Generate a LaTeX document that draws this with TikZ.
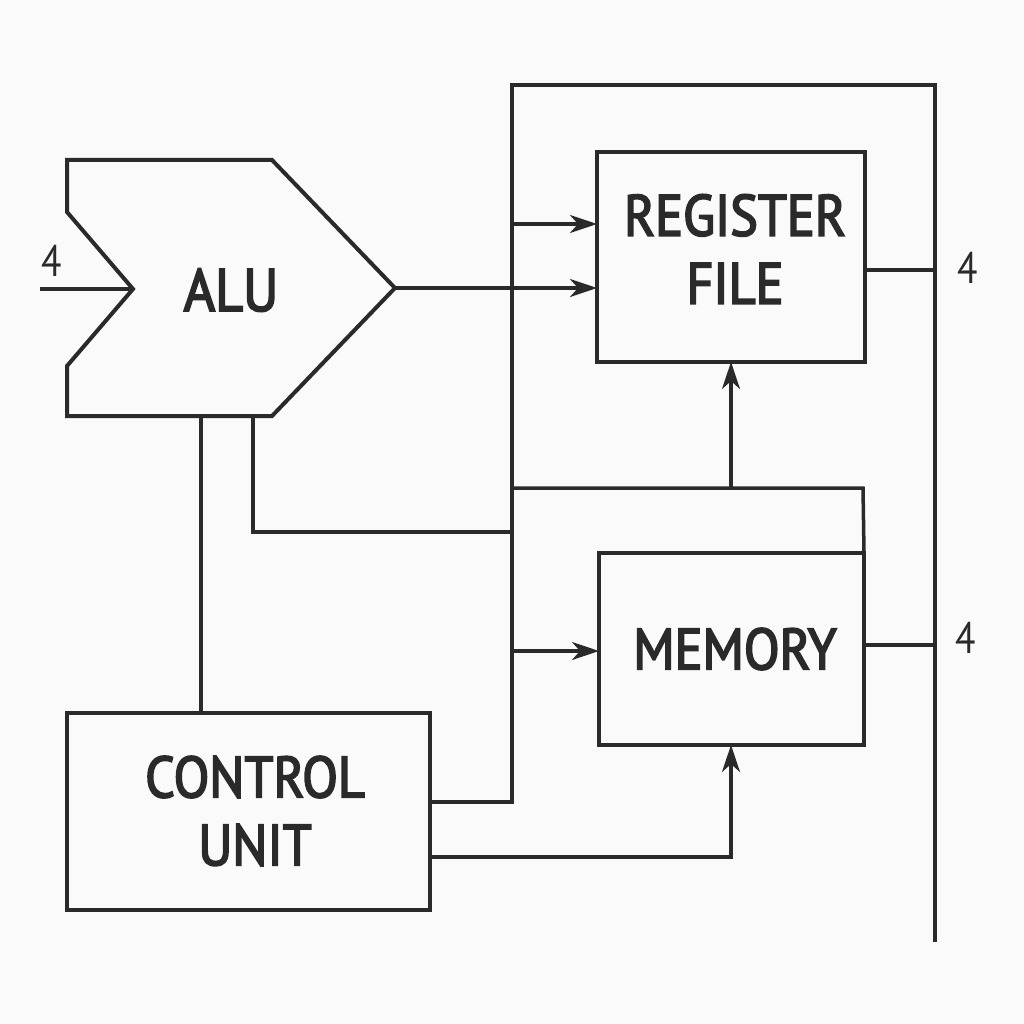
\documentclass[tikz,border=0pt]{standalone}
\usepackage{fontspec}
\setmainfont{PT Sans}
\newfontfamily\boxfont[FakeBold=3,FakeStretch=0.9]{PT Sans}
\newfontfamily\numfont[FakeStretch=0.85]{PT Sans}
\usetikzlibrary{arrows.meta,calc}
\definecolor{ink}{HTML}{2A2A2A}
\definecolor{bg}{HTML}{FAFAFA}
\tikzset{
  box/.style={draw=ink, line width=4pt, inner sep=0pt, outer sep=0pt},
  boxtext/.style={text=ink, align=center, font=\boxfont\fontsize{58}{68}\selectfont},
  wire/.style={draw=ink, line width=3.5pt},
  arr/.style={wire, -{Stealth[length=27pt,width=18pt,inset=8pt]}},
  lbl/.style={text=ink, font=\numfont\fontsize{44}{44}\selectfont, inner sep=0pt},
}
\begin{document}
\begin{tikzpicture}[x=1pt,y=-1pt]
\fill[bg] (0,0) rectangle (1024,1024);
\useasboundingbox (0,0) rectangle (1024,1024);

% blocks
\node[box, minimum width=268pt, minimum height=210pt] (reg) at (731,257) {};
\node[boxtext] (regt) at (735,249) {REGISTER\\FILE};
\node[box, minimum width=265pt, minimum height=192pt] (mem) at (731.5,649) {};
\node[boxtext] (memt) at (735,649) {MEMORY};
\node[box, minimum width=363pt, minimum height=197pt] (cu) at (248.5,811.5) {};
\node[boxtext] (cut) at (255,811) {CONTROL\\UNIT};

% ALU
\coordinate (aluTL) at (67,160);
\coordinate (aluT) at (272,160);
\coordinate (aluTip) at (395,288);
\coordinate (aluB) at (272,416);
\coordinate (aluBL) at (67,416);
\coordinate (aluN1) at (67,366);
\coordinate (aluNotch) at (133,289);
\coordinate (aluN2) at (67,212);
\draw[draw=ink, line width=4pt, line join=miter] (aluTL) -- (aluT) -- (aluTip) -- (aluB) -- (aluBL) -- (aluN1) -- (aluNotch) -- (aluN2) -- cycle;
\node[boxtext, font=\boxfont\fontsize{60}{68}\selectfont] (alu) at (231,290) {ALU};

% bus coordinates
\coordinate (busTL) at (512,85);
\coordinate (busTR) at (935,85);
\coordinate (busEnd) at (935,942);
\coordinate (busCU) at (512,802);
\coordinate (in) at (40,289);
\coordinate (b224) at (512,224);
\coordinate (mid) at (512,488);
\coordinate (midR) at (863,488);
\coordinate (b532) at (512,532);
\coordinate (b651) at (512,651);
\coordinate (aluD1) at (253,416);
\coordinate (aluD1b) at (253,532);
\coordinate (aluD2) at (201,416);
\coordinate (cuOut2) at (731,857);

% wires
\draw[wire] (cu.east |- busCU) -- (busCU) -- (busTL) -- (busTR) -- (busEnd);
\draw[wire] (in) -- (aluNotch);
\draw[arr] (aluTip) -- (reg.west |- aluTip);
\draw[arr] (b224) -- (reg.west |- b224);
\draw[wire] (reg.east |- 0,270) -- (busTR |- 0,270);
\draw[wire] (mid) -- (midR) -- (mem.north east);
\draw[arr] (reg.south |- mid) -- (reg.south);
\draw[wire] (aluD1) -- (aluD1b) -- (b532);
\draw[wire] (aluD2) -- (cu.north -| aluD2);
\draw[arr] (b651) -- (mem.west |- b651);
\draw[wire] (mem.east |- 0,645) -- (busTR |- 0,645);
\draw[arr] (cu.east |- cuOut2) -- (cuOut2) -- (mem.south -| cuOut2);

% labels
\node[lbl] (l1) at (52,261) {4};
\node[lbl] (l2) at (968,268) {4};
\node[lbl] (l3) at (966,638) {4};
\end{tikzpicture}
\end{document}
